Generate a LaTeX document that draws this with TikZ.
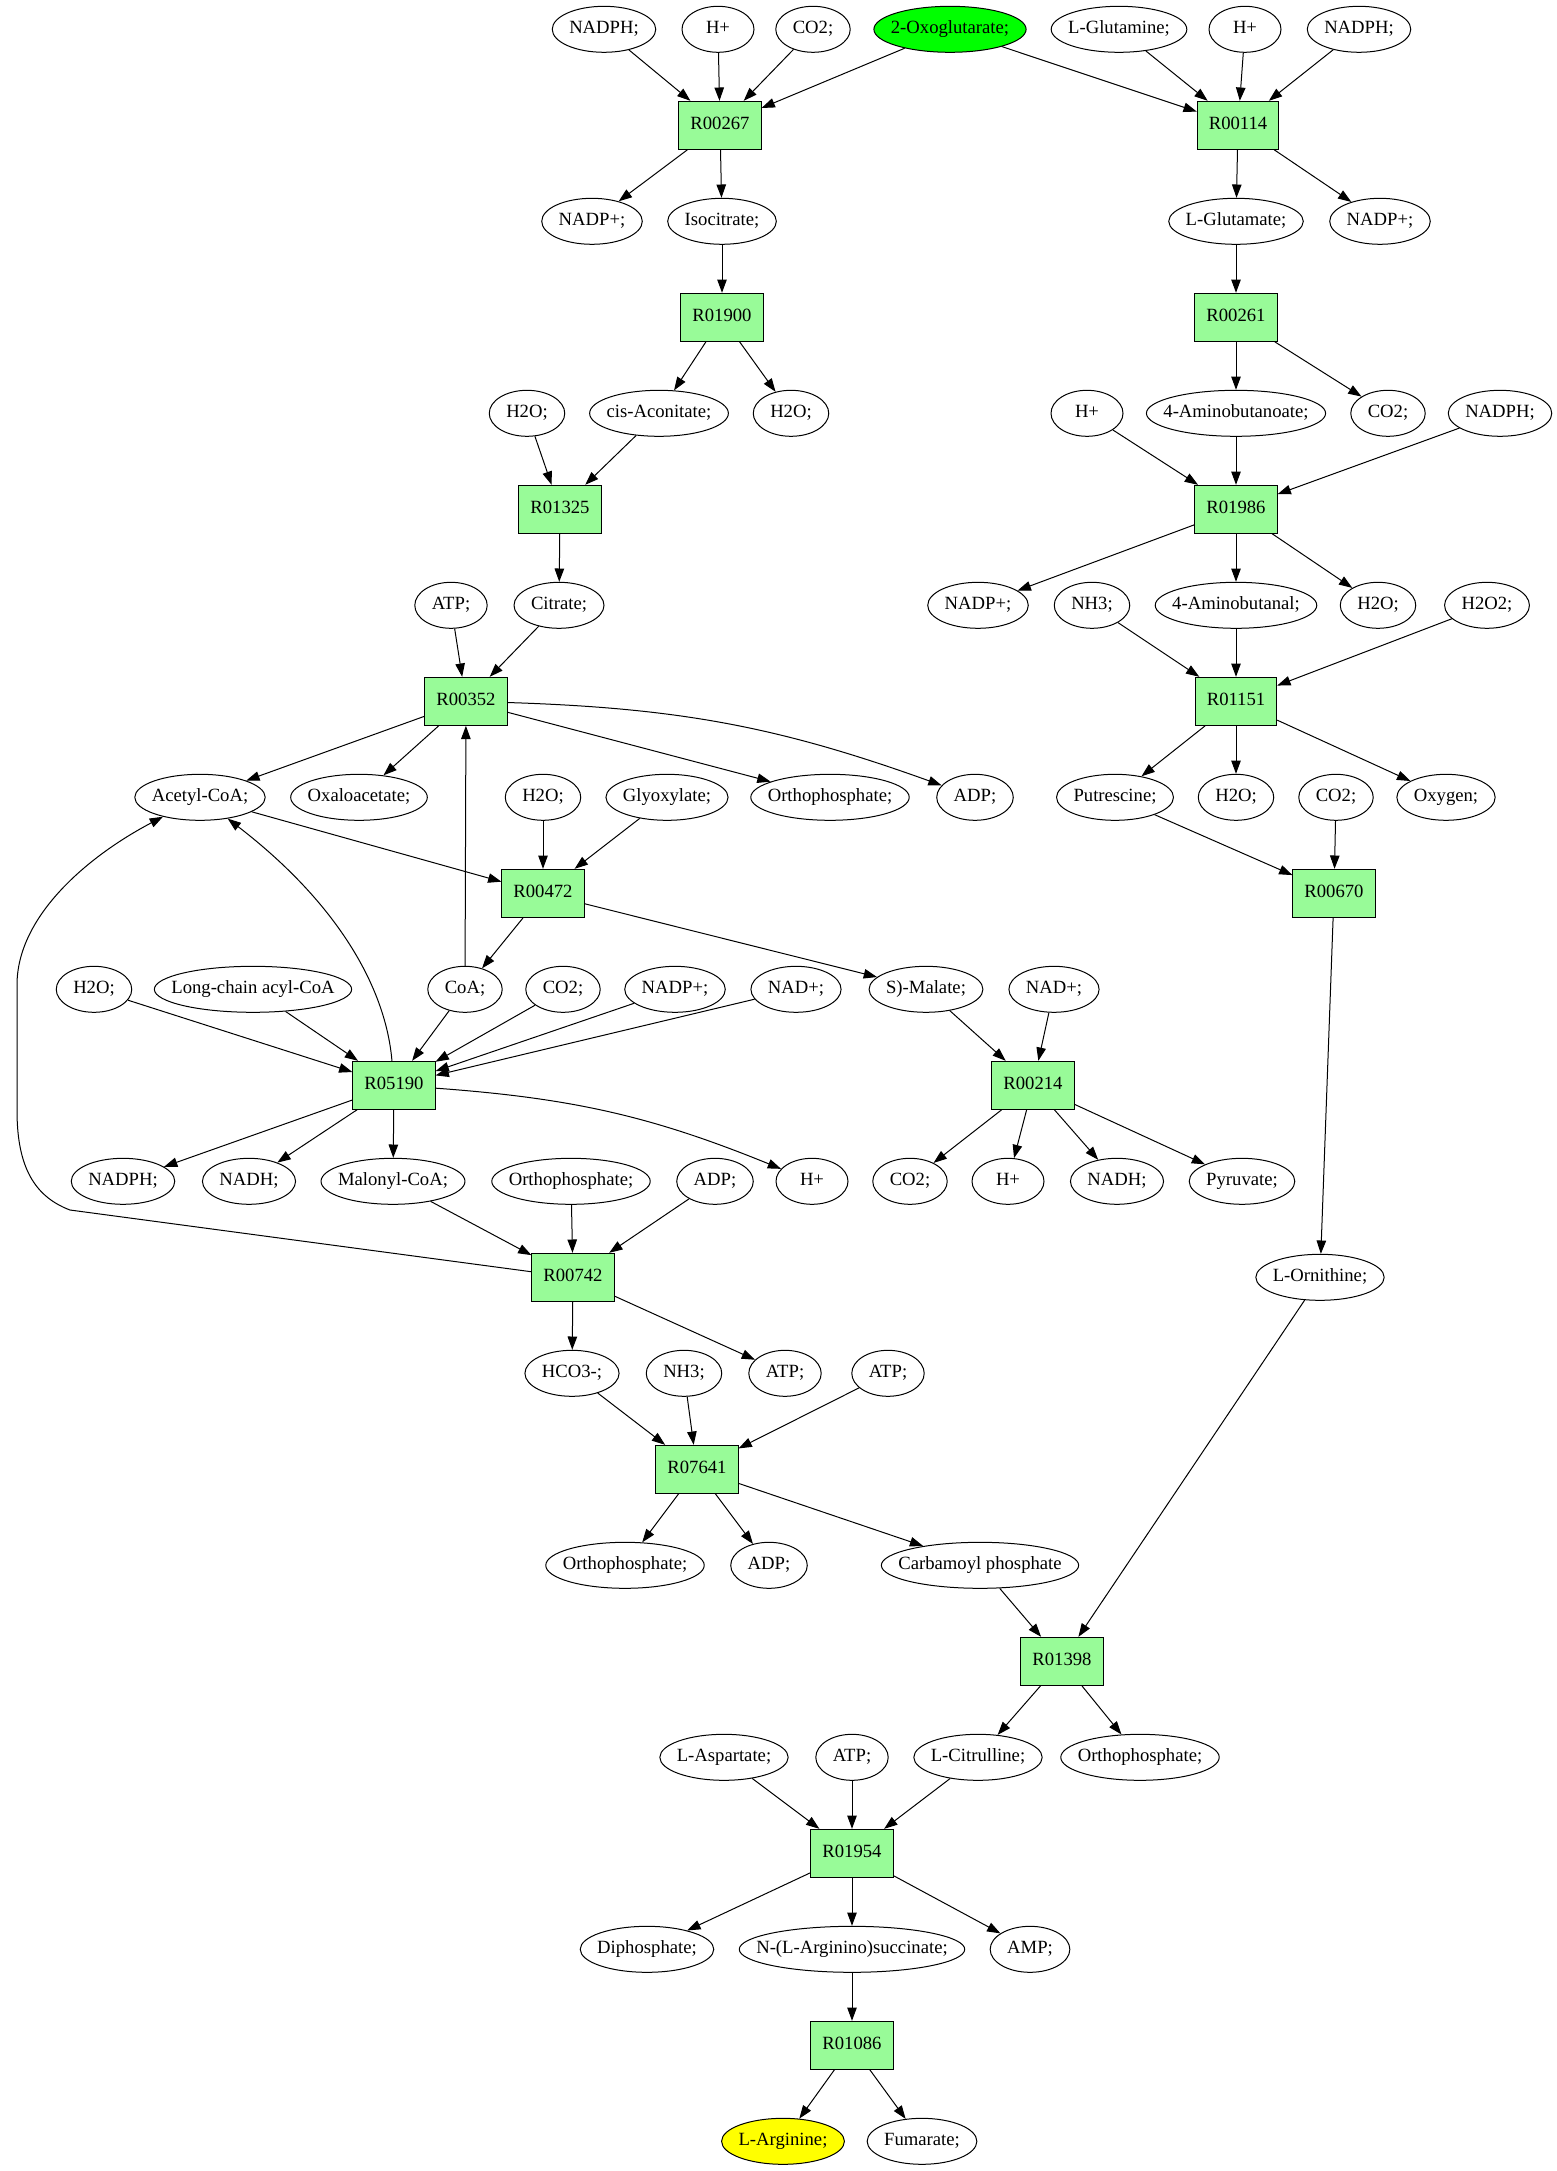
\documentclass[tikz,border=0pt]{standalone}
\usepackage{fontspec}
\setmainfont{Liberation Serif}
\usetikzlibrary{shapes.geometric,arrows.meta,calc}
\definecolor{palegreen}{HTML}{98FB98}
\definecolor{brightgreen}{HTML}{00FF00}
\definecolor{brightyellow}{HTML}{FFFF00}
\newcommand\nf{\fontsize{18.67}{22}\selectfont}
\newcommand\mt[5][white]{%
  \path (#3,#4) node[meas] (m#2) {\phantom{#5}};
  \path let \p1=($(m#2.east)-(m#2.west)$) in
    node[met, fill=#1, minimum width=\x1] (#2) at (#3,#4) {\makebox[0pt]{#5}};}
\tikzset{
  meas/.style={rectangle, inner xsep=17pt, inner ysep=0pt, outer sep=0pt,
    minimum width=72pt, font=\nf},
  met/.style={ellipse, draw, line width=1pt, inner sep=0pt, minimum height=46pt,
    font=\nf, text height=12.5pt, text depth=4pt},
  rxn/.style={rectangle, draw, line width=1pt, fill=palegreen, inner xsep=11.5pt, inner ysep=0pt,
    minimum width=72pt, minimum height=48pt, font=\nf, text height=12.5pt, text depth=4pt},
  lnk/.style={line width=1pt, -{Triangle[length=13.3pt,width=9.5pt]}}
}
\begin{document}
\begin{tikzpicture}[x=1pt,y=-1pt]
\useasboundingbox (0,0) rectangle (1557,2171);
% rank 0
\mt{nadph0}{604}{29.3}{NADPH;}
\mt{hp0}{718}{29.3}{H+}
\mt{co20}{813}{29.3}{CO2;}
\mt[brightgreen]{oxo}{950}{29.3}{2-Oxoglutarate;}
\mt{glnm}{1119}{29.3}{L-Glutamine;}
\mt{hp0b}{1245}{29.3}{H+}
\mt{nadph0b}{1359}{29.3}{NADPH;}
% rank 1
\node[rxn] (r00267) at (720,125.3) {R00267};
\node[rxn] (r00114) at (1238,125.3) {R00114};
% rank 2
\mt{nadpp2}{592}{221.3}{NADP+;}
\mt{isocit}{722}{221.3}{Isocitrate;}
\mt{glu}{1236}{221.3}{L-Glutamate;}
\mt{nadpp2b}{1380}{221.3}{NADP+;}
% rank 3
\node[rxn] (r01900) at (722,317.3) {R01900};
\node[rxn] (r00261) at (1236,317.3) {R00261};
% rank 4
\mt{h2o4}{527}{413.3}{H2O;}
\mt{cisaco}{659}{413.3}{cis-Aconitate;}
\mt{h2o4b}{791}{413.3}{H2O;}
\mt{hp4}{1087}{413.3}{H+}
\mt{gaba}{1236}{413.3}{4-Aminobutanoate;}
\mt{co24}{1388}{413.3}{CO2;}
\mt{nadph4}{1500}{413.3}{NADPH;}
% rank 5
\node[rxn] (r01325) at (560,509.3) {R01325};
\node[rxn] (r01986) at (1236,509.3) {R01986};
% rank 6
\mt{atp6}{451}{605.3}{ATP;}
\mt{citrate}{559}{605.3}{Citrate;}
\mt{nadpp6}{978}{605.3}{NADP+;}
\mt{nh36}{1092}{605.3}{NH3;}
\mt{gabal}{1236}{605.3}{4-Aminobutanal;}
\mt{h2o6}{1378}{605.3}{H2O;}
\mt{h2o26}{1487}{605.3}{H2O2;}
% rank 7
\node[rxn] (r00352) at (466,701.3) {R00352};
\node[rxn] (r01151) at (1236,701.3) {R01151};
% rank 8
\mt{accoa}{200}{797.3}{Acetyl-CoA;}
\mt{oxalo}{359}{797.3}{Oxaloacetate;}
\mt{h2o8}{543}{797.3}{H2O;}
\mt{glyox}{667}{797.3}{Glyoxylate;}
\mt{pi8}{830}{797.3}{Orthophosphate;}
\mt{adp8}{975}{797.3}{ADP;}
\mt{putr}{1115}{797.3}{Putrescine;}
\mt{h2o8b}{1236}{797.3}{H2O;}
\mt{co28}{1336}{797.3}{CO2;}
\mt{oxy}{1446}{797.3}{Oxygen;}
% rank 9
\node[rxn] (r00472) at (543,893.3) {R00472};
\node[rxn] (r00670) at (1334,893.3) {R00670};
% rank 10
\mt{h2o10}{94}{989.3}{H2O;}
\mt{lcacoa}{253}{989.3}{Long-chain acyl-CoA}
\mt{coa}{465}{989.3}{CoA;}
\mt{co210}{563}{989.3}{CO2;}
\mt{nadpp10}{675}{989.3}{NADP+;}
\mt{nadp10}{796}{989.3}{NAD+;}
\mt{malate}{926}{989.3}{S)-Malate;}
\mt{nadp10b}{1054}{989.3}{NAD+;}
% rank 11
\node[rxn] (r05190) at (394,1085.3) {R05190};
\node[rxn] (r00214) at (1033,1085.3) {R00214};
% rank 12
\mt{nadph12}{123}{1181.3}{NADPH;}
\mt{nadh12}{249}{1181.3}{NADH;}
\mt{malcoa}{393}{1181.3}{Malonyl-CoA;}
\mt{pi12}{571}{1181.3}{Orthophosphate;}
\mt{adp12}{715}{1181.3}{ADP;}
\mt{hp12}{812}{1181.3}{H+}
\mt{co212}{910}{1181.3}{CO2;}
\mt{hp12b}{1008}{1181.3}{H+}
\mt{nadh12b}{1117}{1181.3}{NADH;}
\mt{pyr}{1242}{1181.3}{Pyruvate;}
% rank 13
\node[rxn] (r00742) at (573,1277.3) {R00742};
\mt{orn}{1320}{1277.3}{L-Ornithine;}
% rank 14
\mt{hco3}{572}{1373.3}{HCO3-;}
\mt{nh314}{684}{1373.3}{NH3;}
\mt{atp14}{785}{1373.3}{ATP;}
\mt{atp14b}{888}{1373.3}{ATP;}
% rank 15
\node[rxn] (r07641) at (697,1469.3) {R07641};
% rank 16
\mt{pi16}{625}{1565.3}{Orthophosphate;}
\mt{adp16}{769}{1565.3}{ADP;}
\mt{carb}{980}{1565.3}{Carbamoyl phosphate}
% rank 17
\node[rxn] (r01398) at (1062,1661.3) {R01398};
% rank 18
\mt{asp}{724}{1757.3}{L-Aspartate;}
\mt{atp18}{852}{1757.3}{ATP;}
\mt{cit}{978}{1757.3}{L-Citrulline;}
\mt{pi18}{1140}{1757.3}{Orthophosphate;}
% rank 19
\node[rxn] (r01954) at (852,1853.3) {R01954};
% rank 20
\mt{ppi}{647}{1949.3}{Diphosphate;}
\mt{argsucc}{852}{1949.3}{N-(L-Arginino)succinate;}
\mt{amp}{1030}{1949.3}{AMP;}
% rank 21
\node[rxn] (r01086) at (852,2045.3) {R01086};
% rank 22
\mt[brightyellow]{arg}{783}{2141.3}{L-Arginine;}
\mt{fum}{922}{2141.3}{Fumarate;}
% straight connectors
\foreach \a/\b in {nadph0/r00267, hp0/r00267, co20/r00267, oxo/r00267, oxo/r00114,
  glnm/r00114, hp0b/r00114, nadph0b/r00114,
  r00267/nadpp2, r00267/isocit, r00114/glu, r00114/nadpp2b,
  isocit/r01900, glu/r00261,
  r01900/cisaco, r01900/h2o4b, r00261/gaba, r00261/co24,
  h2o4/r01325, cisaco/r01325, hp4/r01986, gaba/r01986, nadph4/r01986,
  r01325/citrate, r01986/nadpp6, r01986/gabal, r01986/h2o6,
  atp6/r00352, citrate/r00352, nh36/r01151, gabal/r01151, h2o26/r01151,
  r00352/accoa, r00352/oxalo, r00352/pi8, r01151/putr, r01151/h2o8b, r01151/oxy,
  accoa/r00472, h2o8/r00472, glyox/r00472, putr/r00670, co28/r00670,
  r00472/coa, r00472/malate, coa/r00352, coa/r05190,
  h2o10/r05190, lcacoa/r05190, co210/r05190, nadpp10/r05190, nadp10/r05190,
  malate/r00214, nadp10b/r00214,
  r05190/nadph12, r05190/nadh12, r05190/malcoa,
  r00214/co212, r00214/hp12b, r00214/nadh12b, r00214/pyr,
  r00670/orn,
  malcoa/r00742, pi12/r00742, adp12/r00742,
  r00742/hco3, r00742/atp14,
  hco3/r07641, nh314/r07641, atp14b/r07641,
  r07641/pi16, r07641/adp16, r07641/carb,
  carb/r01398, orn/r01398,
  r01398/cit, r01398/pi18,
  asp/r01954, atp18/r01954, cit/r01954,
  r01954/ppi, r01954/argsucc, r01954/amp,
  argsucc/r01086, r01086/arg, r01086/fum}
  \draw[lnk] (\a) -- (\b);
% curved connectors
\draw[lnk] (r00352) to[bend left=9] (adp8);
\draw[lnk] (r05190) to[bend left=9] (hp12);
\draw[lnk] (r05190) .. controls (386,990) and (340,905) .. (accoa);
\draw[lnk] (r00742) -- (70,1210) .. controls (30,1195) and (17,1160) .. (17,1110)
  -- (17,985) .. controls (17,915) and (90,855) .. (accoa);
\end{tikzpicture}
\end{document}
